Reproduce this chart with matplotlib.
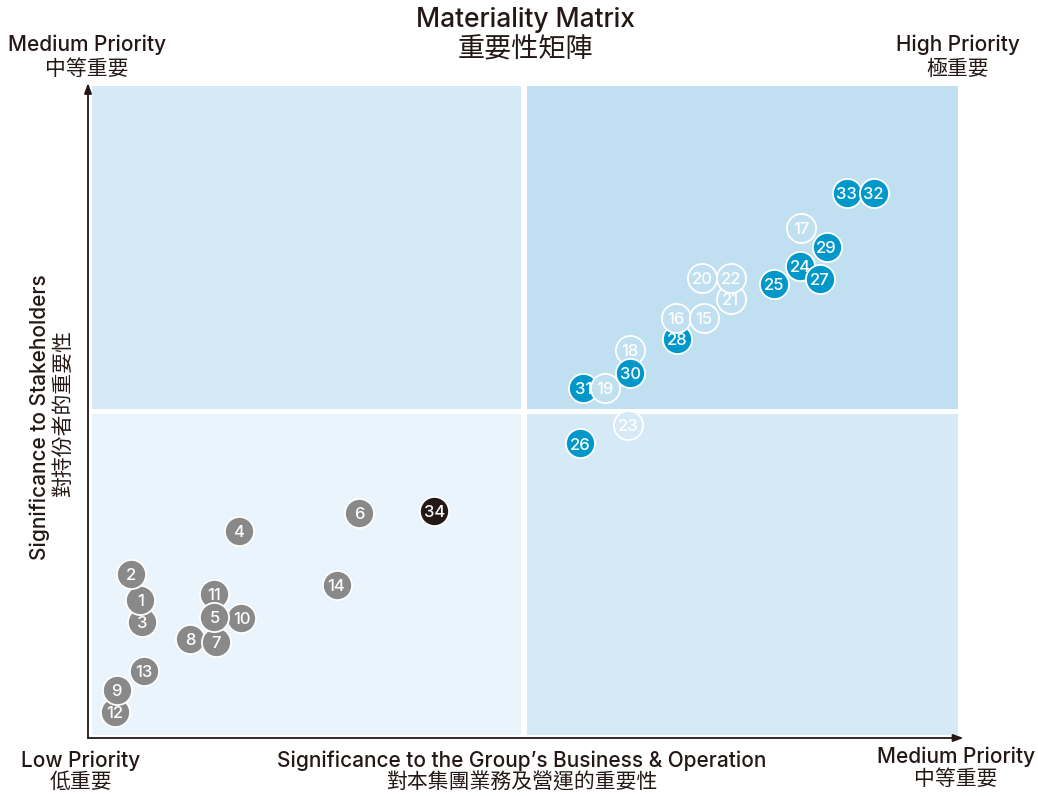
import matplotlib
matplotlib.use("Agg")
import matplotlib.pyplot as plt
from matplotlib.patches import Rectangle

plt.rcParams['font.family'] = ['Inter', 'Noto Sans CJK TC', 'DejaVu Sans']

# ---- data ----
ids = list(range(1, 35))
business = [0.60, 0.49, 0.62, 1.73, 1.45, 3.11, 1.47, 1.17, 0.33, 1.76,
            1.44, 0.31, 0.64, 2.85, 7.06, 6.74, 8.18, 6.21, 5.93, 7.04,
            7.37, 7.37, 6.19, 8.17, 7.87, 5.64, 8.39, 6.76, 8.47, 6.22,
            5.68, 9.01, 8.70, 3.97]
stakeholders = [2.11, 2.51, 1.77, 3.17, 1.85, 3.44, 1.47, 1.51, 0.74, 1.84,
                2.21, 0.40, 1.03, 2.35, 6.43, 6.43, 7.81, 5.94, 5.36, 7.04,
                6.73, 7.04, 4.79, 7.23, 6.96, 4.51, 7.03, 6.11, 7.52, 5.59,
                5.36, 8.35, 8.35, 3.48]
group = (["grey"] * 14) + (["light"] * 9) + (["blue"] * 10) + ["dark"]

title_en = "Materiality Matrix"
title_zh = "重要性矩陣"
x_label_en = "Significance to the Group\u2019s Business & Operation"
x_label_zh = "對本集團業務及營運的重要性"
y_label_en = "Significance to Stakeholders"
y_label_zh = "對持份者的重要性"
corner_tl = ("Medium Priority", "中等重要")
corner_tr = ("High Priority", "極重要")
corner_bl = ("Low Priority", "低重要")
corner_br = ("Medium Priority", "中等重要")

# ---- style ----
W, H = 1038, 797
fig = plt.figure(figsize=(W / 100, H / 100), dpi=100)
L, R, T, B = 88, 960, 85, 738
ax = fig.add_axes([L / W, 1 - B / H, (R - L) / W, (B - T) / H])
ax.set_xlim(0, 10)
ax.set_ylim(0, 10)
ax.axis('off')

fills = {"tl": "#d6e9f6", "tr": "#c0dff0", "bl": "#eaf4fc", "br": "#d6e9f6"}
g = 0.035
ax.add_patch(Rectangle((0.045, 5 + g), 5 - g - 0.045, 5 - g - 0.02, fc=fills["tl"], ec="none", zorder=0))
ax.add_patch(Rectangle((5 + g, 5 + g), 5 - g - 0.02, 5 - g - 0.02, fc=fills["tr"], ec="none", zorder=0))
ax.add_patch(Rectangle((0.045, 0.045), 5 - g - 0.045, 5 - g - 0.045, fc=fills["bl"], ec="none", zorder=0))
ax.add_patch(Rectangle((5 + g, 0.045), 5 - g - 0.02, 5 - g - 0.045, fc=fills["br"], ec="none", zorder=0))

# axes arrows
arrow = dict(arrowstyle="-|>,head_length=0.6,head_width=0.22", color="#231815", lw=1.3,
             shrinkA=0, shrinkB=0)
ax.annotate("", xy=(0, 10.03), xytext=(0, 0), arrowprops=arrow, annotation_clip=False)
ax.annotate("", xy=(10.04, 0), xytext=(0, 0), arrowprops=arrow, annotation_clip=False)

face = {"grey": "#898989", "blue": "#0098cb", "dark": "#231815"}


def light_fill(x, y):
    if x > 5 and y > 5:
        return fills["tr"]
    if x > 5:
        return fills["br"]
    if y > 5:
        return fills["tl"]
    return fills["bl"]


order = [3, 1, 2, 12, 9, 13, 8, 11, 10, 7, 5, 4, 6, 14, 34,
         31, 19, 26, 23, 18, 30, 28, 16, 15, 21, 20, 22, 25, 29, 24, 27, 17, 33, 32]
num_size = 12
for z, n in enumerate(order):
    i = n - 1
    x, y = business[i], stakeholders[i]
    fc = light_fill(x, y) if group[i] == "light" else face[group[i]]
    ax.scatter([x], [y], s=440, c=fc, edgecolors="white", linewidths=1.3, zorder=3 + z * 2)
    ax.annotate(str(ids[i]), xy=(x, y), xytext=(0, -0.364 * num_size), textcoords="offset points",
                color="white", fontsize=num_size, fontweight="medium", ha="center",
                va="baseline", zorder=4 + z * 2)

# text
EN, ZH = 15, 15
INK = "#231815"
CJK = ['Noto Sans CJK TC', 'DejaVu Sans']


def two_line(x, b1, b2, en, zh, size_en, size_zh):
    fig.text(x / W, 1 - b1 / H, en, fontsize=size_en, fontweight="medium", ha="center",
             va="baseline", color=INK)
    fig.text(x / W, 1 - b2 / H, zh, fontsize=size_zh, fontweight="medium", ha="center",
             va="baseline", color=INK, family=CJK)


two_line(525, 26.7, 57, title_en, title_zh, 19, 19.5)
two_line(87, 50.7, 75, corner_tl[0], corner_tl[1], EN, ZH)
two_line(958, 50.7, 75, corner_tr[0], corner_tr[1], EN, ZH)
two_line(80.5, 767, 788.5, corner_bl[0], corner_bl[1], EN, ZH)
two_line(521.5, 767, 788.5, x_label_en, x_label_zh, EN, ZH)
two_line(956, 762.7, 785, corner_br[0], corner_br[1], EN, ZH)

fig.text(39.5 / W, 1 - 417 / H, y_label_en, fontsize=EN, fontweight="medium", rotation=90,
         ha="center", va="center", color=INK)
fig.text(62.5 / W, 1 - 413.5 / H, y_label_zh, fontsize=ZH, fontweight="medium", rotation=90,
         ha="center", va="center", color=INK, family=CJK)

fig.savefig("out.png", dpi=100, facecolor="white")
